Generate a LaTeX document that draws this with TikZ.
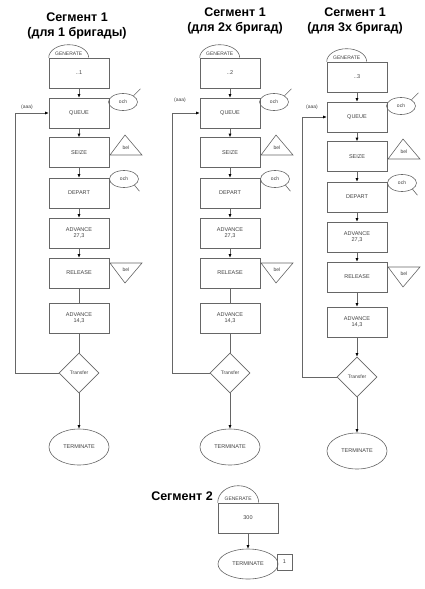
\documentclass[tikz,border=0pt]{standalone}
\usepackage{fontspec}
\setmainfont{Liberation Sans}
\usetikzlibrary{shapes.geometric,arrows.meta}
\tikzset{
  ln/.style={draw=black!60, line width=0.6pt},
  arr/.style={ln, -{Latex[length=3.5pt,width=3pt,color=black]}},
  blk/.style={ln, rectangle, minimum width=60pt, minimum height=30pt, inner sep=0pt,
    font=\fontsize{5.5}{6.5}\selectfont, align=center, text=black!75},
  lbl/.style={inner sep=0pt, font=\fontsize{5}{6}\selectfont, text=black!75},
  och/.style={ln, ellipse, minimum width=29pt, minimum height=17pt, inner sep=0pt,
    font=\fontsize{5}{6}\selectfont, text=black!75},
  dia/.style={ln, diamond, minimum width=40pt, minimum height=40pt, inner sep=0pt,
    font=\fontsize{5}{6}\selectfont, text=black!75},
  term/.style={ln, ellipse, minimum width=60pt, minimum height=36pt, inner sep=0pt,
    font=\fontsize{5.5}{6.5}\selectfont, text=black!75},
  ttl/.style={inner sep=0pt, align=center, font=\fontsize{12.5}{15}\selectfont\bfseries}
}
% #1 id, #2 cx, #3 dy, #4 number, #5 loop x (rel), #6 style of lower links, #7 label pos
\newcommand\mkcol[7]{%
\begin{scope}[shift={(#2,#3)}]
  \node[blk] (g#1) at (0,73) {..#4};
  \draw[ln] (g#1.north west) arc[start angle=180,end angle=0,x radius=20pt,y radius=13pt];
  \node[lbl] (gt#1) at ([xshift=20pt,yshift=4pt]g#1.north west) {GENERATE};
  \node[blk] (q#1) at (0,113) {QUEUE};
  \node[blk] (s#1) at (0,152.5) {SEIZE};
  \node[blk] (d#1) at (0,193) {DEPART};
  \node[blk] (a#1) at (0,233) {ADVANCE\\27,3};
  \node[blk] (r#1) at (0,273) {RELEASE};
  \node[blk] (b#1) at (0,318) {ADVANCE\\14,3};
  \node[dia] (t#1) at (0,373) {Transfer};
  \node[term] (e#1) at (0,447) {TERMINATE};
  \draw[arr] (g#1) -- (q#1);
  \draw[arr] (q#1) -- (s#1);
  \draw[arr] (s#1) -- (d#1);
  \draw[arr] (d#1) -- (a#1);
  \draw[arr] (a#1) -- (r#1);
  \draw[#6] (r#1) -- (b#1);
  \draw[#6] (b#1) -- (t#1);
  \draw[arr] (t#1) -- (e#1);
  \node[och] (qo#1) at (44,102) {och};
  \draw[ln] (qo#1.north east) -- ++(7,-7);
  \draw[ln] (31,155) -- (46,135) -- (63,155) -- cycle;
  \node[lbl] (sb#1) at (47,148) {bel};
  \node[och] (do#1) at (45,179) {och};
  \draw[ln] (do#1.south east) -- ++(5,6);
  \draw[ln] (31,263) -- (63,263) -- (46,283) -- cycle;
  \node[lbl] (rb#1) at (47,269.5) {bel};
  \coordinate (lp#1) at (#5,373);
  \draw[ln] (t#1.west) -- (lp#1);
  \draw[arr] (lp#1) |- (q#1.west);
  \node[lbl] (aa#1) at (#7) {(aaa)};
\end{scope}}
\begin{document}
\begin{tikzpicture}[x=1pt,y=-1pt]
  \useasboundingbox (0,0) rectangle (424,589);
  \node[ttl] (h1) at (77,25.5) {Сегмент 1\\(для 1 бригады)};
  \node[ttl] (h2) at (235,21) {Сегмент 1\\(для 2x бригад)};
  \node[ttl] (h3) at (355,20.5) {Сегмент 1\\(для 3x бригад)};
  \mkcol{1}{79}{0}{1}{-64}{ln}{-52,107}
  \mkcol{2}{230}{0}{2}{-58}{ln}{-50,100}
  \mkcol{3}{357}{4}{3}{-55}{arr}{-45,103}
  % Segment 2
  \node[ttl] (h4) at (182,496) {Сегмент 2};
  \node[blk] (g4) at (248,518) {300};
  \draw[ln] (g4.north west) arc[start angle=180,end angle=0,x radius=20.5pt,y radius=17pt];
  \node[lbl] (gt4) at ([xshift=20.5pt,yshift=4pt]g4.north west) {GENERATE};
  \node[term, minimum height=30pt] (e4) at (248,564) {TERMINATE};
  \node[blk, minimum width=15pt, minimum height=16pt] (n4) at (284.5,562) {1};
  \draw[arr] (g4) -- (e4);
\end{tikzpicture}
\end{document}
